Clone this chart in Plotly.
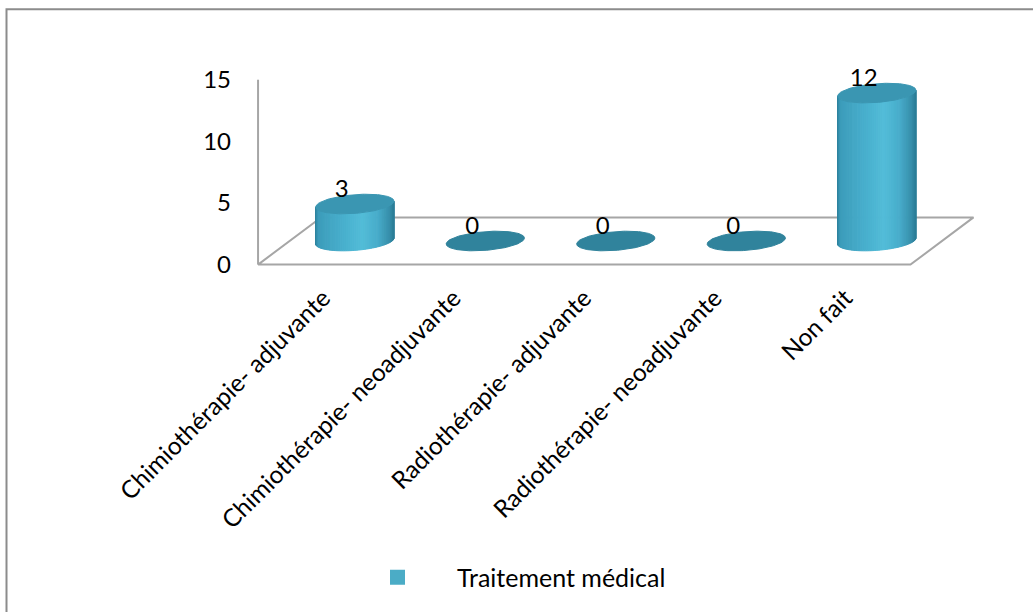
import numpy as np
import plotly.graph_objects as go

# ---- data ----
categories = [
    "Chimiothérapie- adjuvante",
    "Chimiothérapie- neoadjuvante",
    "Radiothérapie- adjuvante",
    "Radiothérapie- neoadjuvante",
    "Non fait",
]
values = [3, 0, 0, 0, 12]
series_name = "Traitement médical"
y_ticks = [0, 5, 10, 15]

# ---- style ----
FONT = "Lato"
LEGEND_COLOR = "rgb(75,172,198)"
TOP_COLOR = "rgb(58,150,178)"
FLAT_COLOR = "rgb(48,131,156)"
GRID_GREY = "#A6A6A6"

# side lighting: (position across the cylinder 0..1, rgb)
SIDE_STOPS_P = [0.0, 0.04, 0.3, 0.6, 0.8, 0.95, 1.0]
SIDE_STOPS_RGB = [
    (44, 128, 156),
    (60, 156, 186),
    (70, 172, 202),
    (82, 188, 216),
    (72, 172, 202),
    (54, 142, 170),
    (44, 126, 152),
]

# oblique projection used to fake the 3-D floor
DEPTH_DX = 0.483   # horizontal shift (category units) from front to back edge
DEPTH_DY = 3.83    # vertical rise (value units) from front to back edge
RAD_X = 0.30       # cylinder half-width (category units)
RAD_Y = 0.76       # ellipse half-height (value units)
TILT = 0.24        # small tilt of the ellipses

# page geometry (pixels)
W, H = 1033, 612
PLOT_L, PLOT_R, PLOT_T, PLOT_B = 245, 1000, 60, 275.5
X_RANGE = [-0.6, 5.186]
Y_RANGE = [-0.6, 16.6]


def side_color(p):
    ch = [np.interp(p, SIDE_STOPS_P, [c[j] for c in SIDE_STOPS_RGB]) for j in range(3)]
    return "rgb({},{},{})".format(*(int(round(c)) for c in ch))


def paper_x(px):
    return (px - PLOT_L) / (PLOT_R - PLOT_L)


def paper_y(py):
    return (PLOT_B - py) / (PLOT_B - PLOT_T)


n = len(categories)
cx = np.arange(n) + DEPTH_DX / 2
floor_mid = DEPTH_DY / 2
vals = np.array(values, dtype=float)

fig = go.Figure()

# floor outline
fig.add_trace(go.Scatter(
    x=[-0.5, n - 0.5, n - 0.5 + DEPTH_DX, -0.5 + DEPTH_DX, -0.5],
    y=[0, 0, DEPTH_DY, DEPTH_DY, 0],
    mode="lines", line=dict(color=GRID_GREY, width=2),
    hoverinfo="skip", showlegend=False,
))
# value axis line
fig.add_trace(go.Scatter(
    x=[-0.5, -0.5], y=[y_ticks[0], y_ticks[-1]],
    mode="lines", line=dict(color=GRID_GREY, width=2),
    hoverinfo="skip", showlegend=False,
))

# cylinder sides, drawn as thin vertical strips with a lighting gradient
n_strips = 60
t_edges = np.linspace(np.pi, 2 * np.pi, n_strips + 1)
for k in range(n_strips):
    ta = np.linspace(t_edges[k], t_edges[k + 1], 4)
    xs, ys = [], []
    for i, v in enumerate(vals):
        if v <= 0:
            continue
        ex = cx[i] + RAD_X * np.cos(ta)
        eb = floor_mid + RAD_Y * np.sin(ta) + TILT * np.cos(ta)
        et = eb + v
        xs += list(ex) + list(ex[::-1]) + [ex[0], None]
        ys += list(eb) + list(et[::-1]) + [eb[0], None]
    if not xs:
        continue
    p = (np.cos(0.5 * (t_edges[k] + t_edges[k + 1])) + 1) / 2
    col = side_color(p)
    fig.add_trace(go.Scatter(
        x=xs, y=ys, mode="lines", fill="toself", fillcolor=col,
        line=dict(color=col, width=1), hoverinfo="skip", showlegend=False,
    ))

# cylinder tops
tt = np.linspace(0, 2 * np.pi, 120)
for i, v in enumerate(vals):
    col = TOP_COLOR if v > 0 else FLAT_COLOR
    fig.add_trace(go.Scatter(
        x=cx[i] + RAD_X * np.cos(tt),
        y=floor_mid + v + RAD_Y * np.sin(tt) + TILT * np.cos(tt),
        mode="lines", fill="toself", fillcolor=col,
        line=dict(color=col, width=1),
        hovertemplate=f"{categories[i]}: {values[i]}<extra></extra>",
        showlegend=False,
    ))

# value labels
fig.add_trace(go.Scatter(
    x=cx - 0.1, y=floor_mid + vals + RAD_Y + 0.3,
    mode="text", text=[str(v) for v in values],
    textfont=dict(family=FONT, size=24, color="black"),
    cliponaxis=False, hoverinfo="skip", showlegend=False,
))

# legend entry
fig.add_trace(go.Scatter(
    x=[None], y=[None], mode="markers", name=series_name,
    marker=dict(symbol="square", size=15, color=LEGEND_COLOR),
))

# outer chart frame
fig.add_shape(
    type="rect", xref="paper", yref="paper",
    x0=paper_x(6.5), x1=paper_x(W + 20), y0=paper_y(8.5), y1=paper_y(H + 20),
    line=dict(color="#8C8C8C", width=2), fillcolor="rgba(0,0,0,0)",
)

fig.update_layout(
    width=W, height=H, autosize=False,
    margin=dict(l=PLOT_L, r=W - PLOT_R, t=PLOT_T, b=H - PLOT_B, pad=0),
    paper_bgcolor="white", plot_bgcolor="white",
    font=dict(family=FONT, size=24, color="black"),
    xaxis=dict(
        range=X_RANGE, tickvals=list(range(n)), ticktext=categories,
        tickangle=-45, showgrid=False, zeroline=False, showline=False,
        ticks="", ticklabelstandoff=6,
        tickfont=dict(family=FONT, size=24.5, color="black"),
        fixedrange=True,
    ),
    yaxis=dict(
        range=Y_RANGE, tickvals=y_ticks, showgrid=False, zeroline=False,
        showline=False, ticks="", ticklabelstandoff=13,
        tickfont=dict(family=FONT, size=24, color="black"),
        fixedrange=True,
    ),
    showlegend=True,
    legend=dict(
        orientation="h", x=paper_x(338), xanchor="left",
        y=paper_y(586), yanchor="middle",
        font=dict(family=FONT, size=25, color="black"),
        itemwidth=109, bgcolor="rgba(0,0,0,0)",
    ),
)

fig.write_html("out.html")
